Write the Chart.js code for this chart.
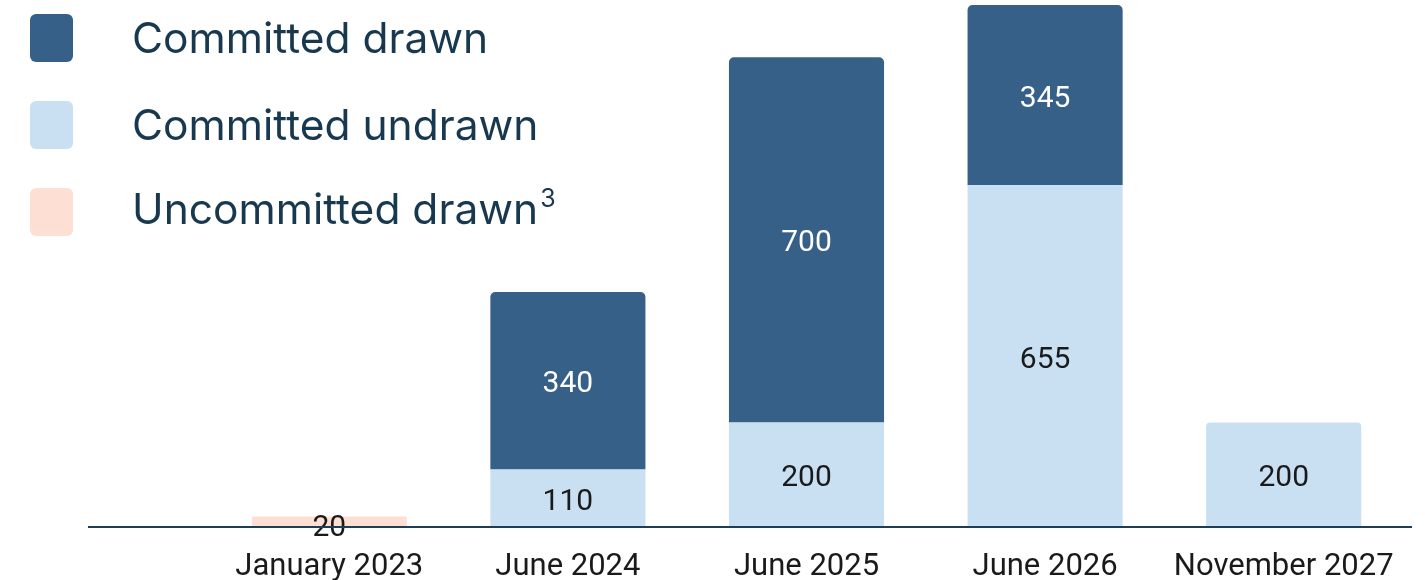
<!DOCTYPE html>
<html>
<head>
<meta charset="utf-8">
<script src="https://cdn.jsdelivr.net/npm/chart.js@4.4.0/dist/chart.umd.min.js"></script>
<style>
  html, body { margin: 0; padding: 0; background: #fff; }
  #wrap { position: relative; width: 1425px; height: 580px; }
  #legend { position: absolute; left: 30px; top: 14px; font-family: Inter, sans-serif; color: #17384e; }
  .row { display: flex; align-items: center; height: 48px; margin-bottom: 39px; }
  .box { width: 43px; height: 48px; border-radius: 6px; margin-right: 59px; }
  .txt { font-size: 42.5px; line-height: 48px; white-space: nowrap; }
  .txt sup { font-size: 25px; vertical-align: 0; position: relative; top: -17px; margin-left: 2px; }
</style>
</head>
<body>
<div id="wrap">
  <canvas id="myChart" width="1425" height="580"></canvas>
  <div id="legend"></div>
</div>
<script>
'use strict';

var categories = ['January 2023', 'June 2024', 'June 2025', 'June 2026', 'November 2027'];
var committedUndrawn = [null, 110, 200, 655, 200];
var committedDrawn = [null, 340, 700, 345, null];
var uncommittedDrawn = [20, null, null, null, null];

var seriesNames = ['Committed drawn', 'Committed undrawn', 'Uncommitted drawn'];
var seriesNotes = ['', '', '3'];
var seriesColors = ['#376088', '#c9e0f3', '#fde0d3'];
var labelColors = ['#ffffff', '#1a1a1a', '#1a1a1a'];

// legend built by hand (superscript note on last item)
var legendDiv = document.getElementById('legend');
for (var i = 0; i < seriesNames.length; i++) {
    var row = document.createElement('div');
    row.className = 'row';
    var box = document.createElement('div');
    box.className = 'box';
    box.style.background = seriesColors[i];
    var txt = document.createElement('div');
    txt.className = 'txt';
    txt.textContent = seriesNames[i];
    if (seriesNotes[i]) {
        var sup = document.createElement('sup');
        sup.textContent = seriesNotes[i];
        txt.appendChild(sup);
    }
    row.appendChild(box);
    row.appendChild(txt);
    legendDiv.appendChild(row);
}

var valueLabels = {
    id: 'valueLabels',
    afterDatasetsDraw: function (chart) {
        var ctx = chart.ctx;
        ctx.save();
        ctx.font = '30px Roboto, sans-serif';
        ctx.textAlign = 'center';
        ctx.textBaseline = 'middle';
        chart.data.datasets.forEach(function (ds, di) {
            var meta = chart.getDatasetMeta(di);
            meta.data.forEach(function (bar, j) {
                var v = ds.data[j];
                if (v === null || v === undefined) return;
                ctx.fillStyle = ds.labelColor;
                var y = (bar.y + bar.base) / 2 + 4;
                if (v < 50) y = bar.base + 1;
                ctx.fillText(String(v), bar.x, y);
            });
        });
        ctx.restore();
    }
};

// long baseline drawn over the bars
var baseLine = {
    id: 'baseLine',
    afterDraw: function (chart) {
        var ctx = chart.ctx;
        var y = chart.scales.y.getPixelForValue(0);
        ctx.save();
        ctx.strokeStyle = '#1f3e55';
        ctx.lineWidth = 2;
        ctx.beginPath();
        ctx.moveTo(88, y);
        ctx.lineTo(1412, y);
        ctx.stroke();
        ctx.restore();
    }
};

var ctx = document.getElementById('myChart').getContext('2d');
var chart = new Chart(ctx, {
    type: 'bar',
    data: {
        labels: categories,
        datasets: [{
            label: seriesNames[1],
            data: committedUndrawn,
            backgroundColor: seriesColors[1],
            labelColor: labelColors[1],
            borderRadius: 4
        }, {
            label: seriesNames[0],
            data: committedDrawn,
            backgroundColor: seriesColors[0],
            labelColor: labelColors[0],
            borderRadius: 5
        }, {
            label: seriesNames[2],
            data: uncommittedDrawn,
            backgroundColor: seriesColors[2],
            labelColor: labelColors[2],
            borderRadius: 2
        }]
    },
    options: {
        responsive: false,
        animation: false,
        events: [],
        layout: { padding: { left: 210, right: 22, top: 5, bottom: 0 } },
        datasets: { bar: { categoryPercentage: 1, barPercentage: 0.65 } },
        plugins: { legend: { display: false }, tooltip: { enabled: false } },
        scales: {
            x: {
                stacked: true,
                grid: { display: false, drawTicks: false },
                border: { display: false },
                ticks: { color: '#1a1a1a', padding: 22, font: { family: 'Roboto', size: 31 } },
                afterFit: function (scale) { scale.height = 53; }
            },
            y: {
                stacked: true,
                display: false,
                min: 0,
                max: 1000
            }
        }
    },
    plugins: [valueLabels, baseLine]
});
</script>
</body>
</html>
